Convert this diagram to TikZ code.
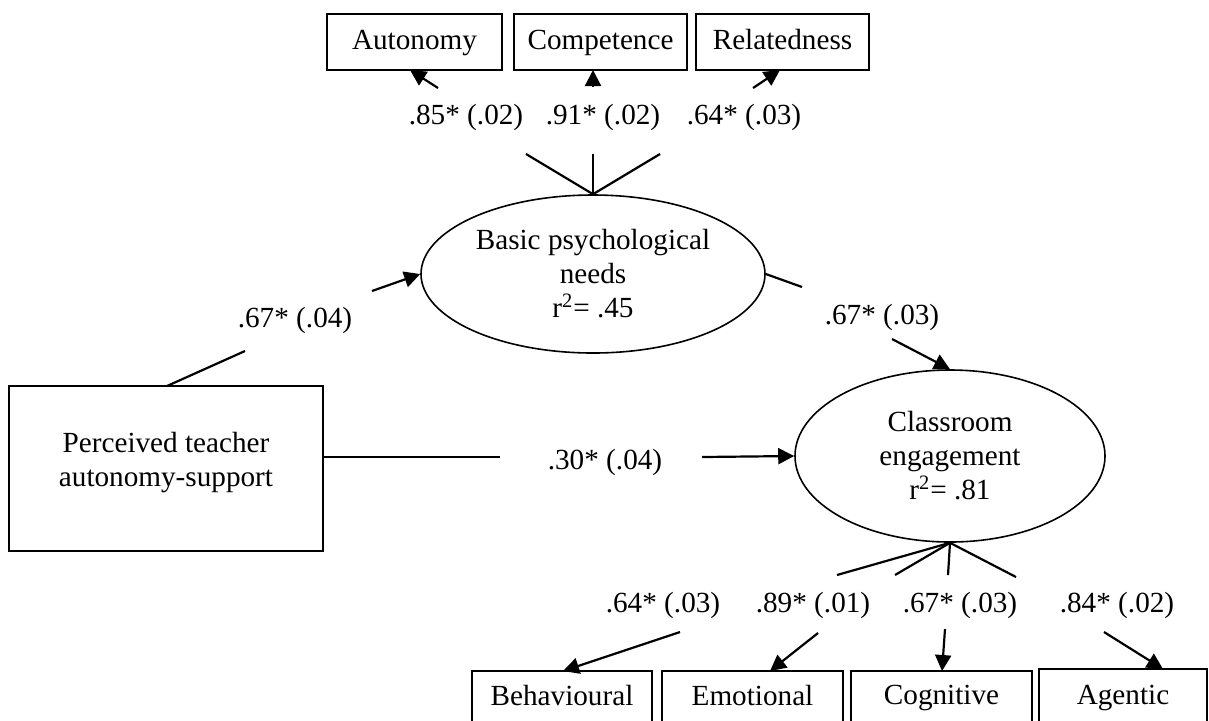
\documentclass[tikz,border=0pt]{standalone}
\usepackage{fontspec}
\setmainfont{Liberation Serif}
\usetikzlibrary{arrows.meta,shapes.geometric}
\begin{document}
\begin{tikzpicture}[x=0.5pt,y=-0.5pt,
  font=\fontsize{14.6}{17}\selectfont,
  box/.style={draw,line width=1pt,inner sep=0pt,text height=10pt,text depth=3pt},
  lat/.style={draw,ellipse,line width=0.8pt,inner sep=0pt,align=center},
  conn/.style={line width=1.1pt},
  arr/.style={conn,-{Triangle[length=8pt,width=8pt]}},
  lab/.style={inner sep=0pt,text height=10pt,text depth=3pt}
]
\useasboundingbox (0,0) rectangle (1209,720);
\clip (0,0) rectangle (1209,720);

% top indicator boxes
\node[box,minimum width=87.5pt,minimum height=28pt] (aut) at (414.5,42) {Autonomy};
\node[box,minimum width=86.5pt,minimum height=28pt] (com) at (600.5,42) {Competence};
\node[box,minimum width=86.5pt,minimum height=28pt] (rel) at (782.5,42) {Relatedness};

% latent variables
\node[lat,minimum width=172pt,minimum height=79pt] (bpn) at (593,274) {Basic psychological\\needs\\r\textsuperscript{2}= .45};
\node[lat,minimum width=155pt,minimum height=86pt] (ce) at (950,456) {Classroom\\engagement\\r\textsuperscript{2}= .81};

% predictor box
\node[draw,line width=1pt,minimum width=157pt,minimum height=82.5pt] (pt) at (166,468.5) {};
\node[inner sep=0pt,align=center] (ptT) at (166,462.5) {Perceived teacher\\autonomy-support};

% bottom indicator boxes
\node[draw,line width=1pt,minimum width=90pt,minimum height=49pt] (beh) at (562,720) {};
\node[draw,line width=1pt,minimum width=90.5pt,minimum height=49pt] (emo) at (752.5,720) {};
\node[draw,line width=1pt,minimum width=90.5pt,minimum height=49pt] (cog) at (941.5,720) {};
\node[draw,line width=1pt,minimum width=84pt,minimum height=50pt] (age) at (1123,719) {};
\node[lab] (behT) at (562,698) {Behavioural};
\node[lab] (emoT) at (752.5,698) {Emotional};
\node[lab] (cogT) at (941.5,697) {Cognitive};
\node[lab] (ageT) at (1123,697) {Agentic};

% coordinates for broken connectors
\coordinate (a1) at (526,154); \coordinate (a2) at (438,88); \coordinate (aT) at (410,70);
\coordinate (c1) at (593,154); \coordinate (c2) at (593,87); \coordinate (cT) at (593,70);
\coordinate (r1) at (660,154); \coordinate (r2) at (753,88); \coordinate (rT) at (780,70);

\coordinate (p0) at (167,386); \coordinate (p1) at (245,351); \coordinate (p2) at (372,291);
\coordinate (d0) at (323,457); \coordinate (d1) at (500,457); \coordinate (d2) at (702,457);
\coordinate (e1) at (802,287); \coordinate (e2) at (892,339);

\coordinate (b1) at (837,575); \coordinate (b2) at (680,632); \coordinate (bT) at (563,671);
\coordinate (m1) at (895,575); \coordinate (m2) at (818,633); \coordinate (mT) at (770,671);
\coordinate (g1) at (948,575); \coordinate (g2) at (945,629); \coordinate (gT) at (942,671);
\coordinate (k1) at (1016,577); \coordinate (k2) at (1104,632); \coordinate (kT) at (1163,669);

% top loadings
\draw[conn] (bpn.north) -- (a1);
\draw[conn] (bpn.north) -- (c1);
\draw[conn] (bpn.north) -- (r1);
\draw[arr] (a2) -- (aT);
\draw[arr] (c2) -- (cT);
\draw[arr] (r2) -- (rT);
\node[lab] (la) at (466,117) {.85* (.02)};
\node[lab] (lc) at (603,117) {.91* (.02)};
\node[lab] (lr) at (744,117) {.64* (.03)};

% structural paths
\draw[conn] (p0) -- (p1);
\draw[arr] (p2) -- (bpn.west);
\node[lab] (lp) at (295,320) {.67* (.04)};

\draw[conn] (d0) -- (d1);
\draw[arr] (d2) -- (ce.west);
\node[lab] (ld) at (605,462) {.30* (.04)};

\draw[conn] (bpn.east) -- (e1);
\draw[arr] (e2) -- (ce.north);
\node[lab] (le) at (882,317) {.67* (.03)};

% bottom loadings
\draw[conn] (ce.south) -- (b1);
\draw[conn] (ce.south) -- (m1);
\draw[conn] (ce.south) -- (g1);
\draw[conn] (ce.south) -- (k1);
\draw[arr] (b2) -- (bT);
\draw[arr] (m2) -- (mT);
\draw[arr] (g2) -- (gT);
\draw[arr] (k2) -- (kT);
\node[lab] (lb) at (663,605) {.64* (.03)};
\node[lab] (lm) at (813,605) {.89* (.01)};
\node[lab] (lg) at (960,605) {.67* (.03)};
\node[lab] (lk) at (1117,605) {.84* (.02)};
\end{tikzpicture}
\end{document}
